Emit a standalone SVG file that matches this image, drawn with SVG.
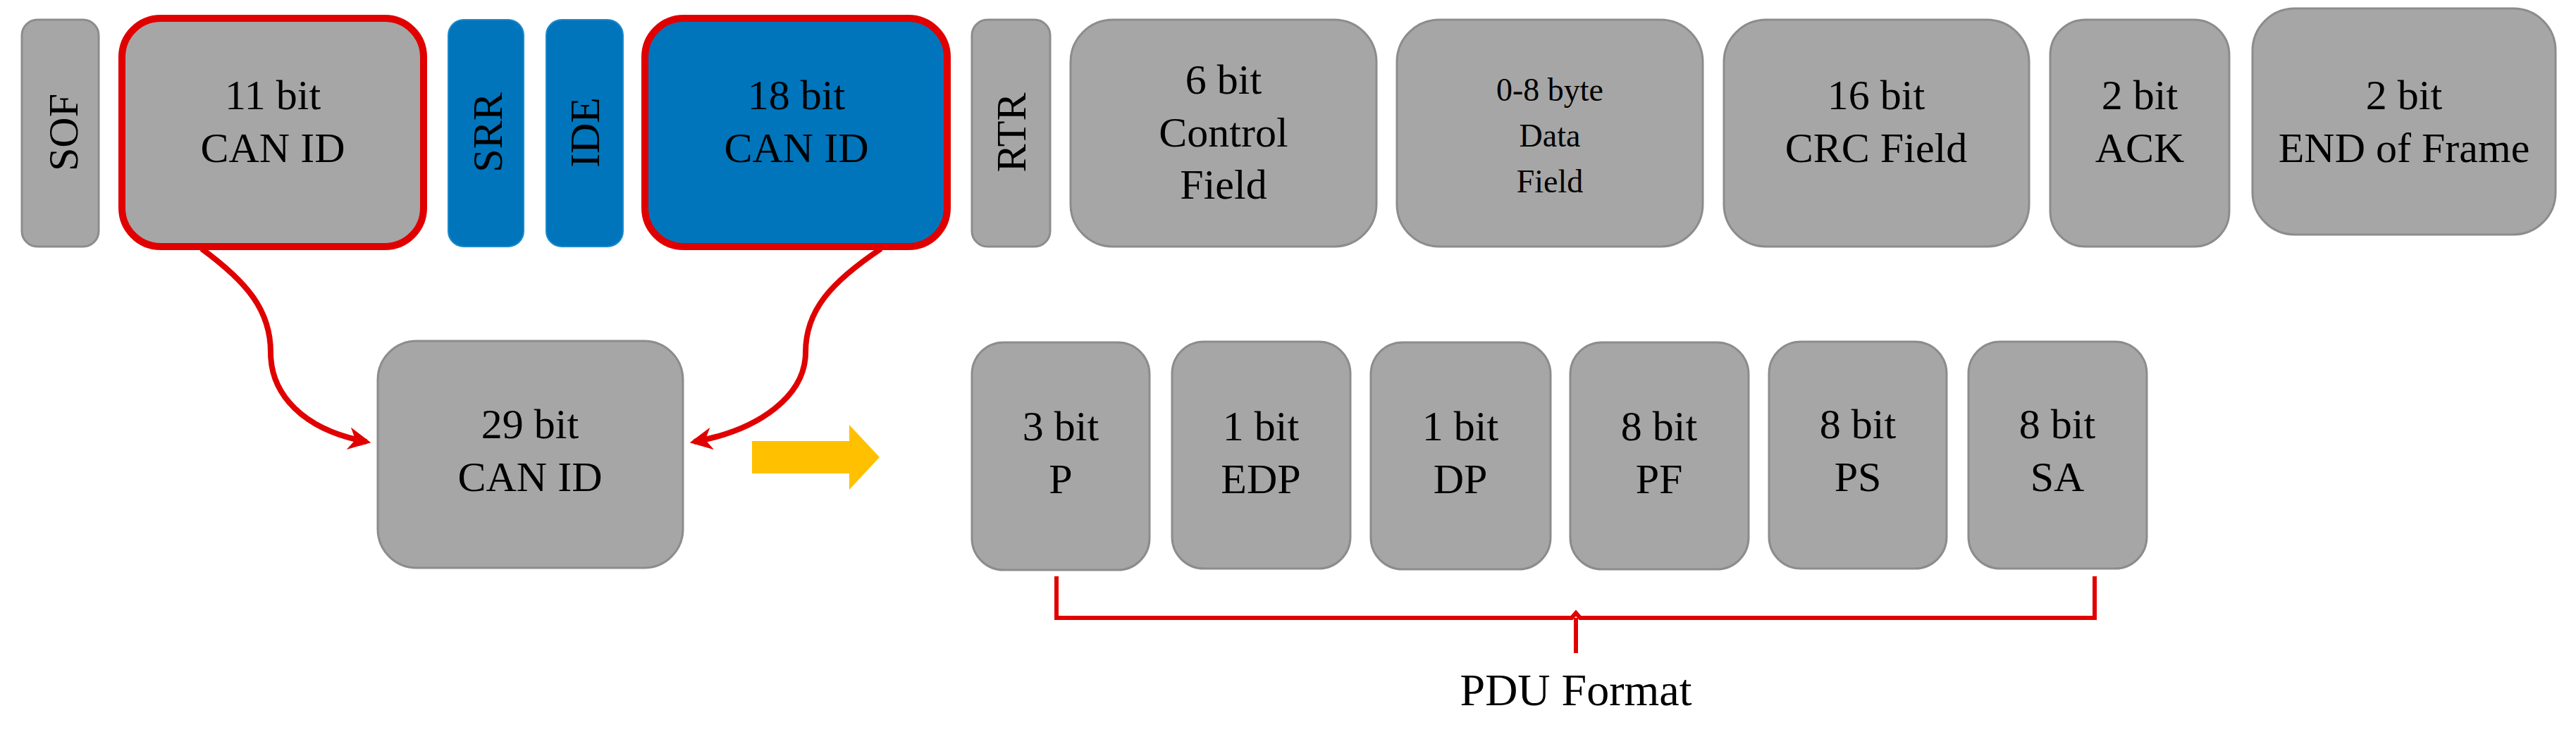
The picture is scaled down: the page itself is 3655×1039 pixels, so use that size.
<svg xmlns="http://www.w3.org/2000/svg" width="3655" height="1039" viewBox="0 0 3655 1039">
<style>
.g{fill:#A6A6A6;stroke:#8C8C8C;stroke-width:3}
.b{fill:#0075BB;stroke:#1A8ACB;stroke-width:2}
.hl{stroke:#E00000;stroke-width:10}
text{font-family:"Liberation Serif","Times New Roman",serif;font-size:60px;fill:#000;text-anchor:middle}
.s{font-size:46px}
.c{fill:none;stroke:#E00000;stroke-width:8}
</style>
<defs>
<marker id="ah" viewBox="0 0 10 10" refX="8" refY="5" markerWidth="4" markerHeight="4" orient="auto" markerUnits="strokeWidth">
<path d="M0,0 L10,5 L0,10 L3,5 Z" fill="#E00000"/>
</marker>
</defs>
<g id="sof"><rect class="g" x="31" y="28" width="109" height="322" rx="22"/><text transform="translate(110,188) rotate(-90)">SOF</text></g>
<g id="can11"><rect class="g hl" x="173" y="26" width="428" height="324" rx="55"/><text x="387" y="155">11 bit</text><text x="387" y="230">CAN ID</text></g>
<g id="srr"><rect class="b" x="636" y="28" width="107" height="322" rx="22"/><text transform="translate(712,188) rotate(-90)">SRR</text></g>
<g id="ide"><rect class="b" x="775" y="28" width="109" height="322" rx="22"/><text transform="translate(850,188) rotate(-90)">IDE</text></g>
<g id="can18"><rect class="b hl" x="915" y="26" width="429" height="324" rx="55"/><text x="1130" y="155">18 bit</text><text x="1130" y="230">CAN ID</text></g>
<g id="rtr"><rect class="g" x="1379" y="28" width="111" height="322" rx="22"/><text transform="translate(1455,188) rotate(-90)">RTR</text></g>
<g id="ctrl"><rect class="g" x="1519" y="28" width="434" height="322" rx="60"/><text x="1736" y="133">6 bit</text><text x="1736" y="208">Control</text><text x="1736" y="282">Field</text></g>
<g id="data"><rect class="g" x="1982" y="28" width="434" height="322" rx="60"/><text class="s" x="2199" y="143">0-8 byte</text><text class="s" x="2199" y="208">Data</text><text class="s" x="2199" y="273">Field</text></g>
<g id="crc"><rect class="g" x="2446" y="28" width="433" height="322" rx="60"/><text x="2662" y="155">16 bit</text><text x="2662" y="230">CRC Field</text></g>
<g id="ack"><rect class="g" x="2909" y="28" width="254" height="322" rx="50"/><text x="3036" y="155">2 bit</text><text x="3036" y="230">ACK</text></g>
<g id="eof"><rect class="g" x="3196" y="12" width="430" height="321" rx="60"/><text x="3411" y="155">2 bit</text><text x="3411" y="230">END of Frame</text></g>
<g id="can29"><rect class="g" x="536" y="484" width="433" height="322" rx="55"/><text x="752" y="622">29 bit</text><text x="752" y="697">CAN ID</text></g>
<g id="p"><rect class="g" x="1379" y="486" width="252" height="323" rx="45"/><text x="1505" y="625">3 bit</text><text x="1505" y="700">P</text></g>
<g id="edp"><rect class="g" x="1663" y="485" width="253" height="322" rx="45"/><text x="1789" y="625">1 bit</text><text x="1789" y="700">EDP</text></g>
<g id="dp"><rect class="g" x="1945" y="486" width="255" height="322" rx="45"/><text x="2072" y="625">1 bit</text><text x="2072" y="700">DP</text></g>
<g id="pf"><rect class="g" x="2228" y="486" width="253" height="322" rx="45"/><text x="2354" y="625">8 bit</text><text x="2354" y="700">PF</text></g>
<g id="ps"><rect class="g" x="2510" y="485" width="252" height="322" rx="45"/><text x="2636" y="622">8 bit</text><text x="2636" y="697">PS</text></g>
<g id="sa"><rect class="g" x="2793" y="485" width="253" height="322" rx="45"/><text x="2919" y="622">8 bit</text><text x="2919" y="697">SA</text></g>
<g id="pdu"><text x="2236" y="1001" style="font-size:64px">PDU Format</text></g>
<g id="connectors">
<path class="c" d="M286,353 C350,400 384,440 384,500 C384,560 430,610 520,627" marker-end="url(#ah)"/>
<path class="c" d="M1250,353 C1180,400 1143,440 1143,500 C1143,560 1080,610 985,627" marker-end="url(#ah)"/>
<path d="M1067,626 H1205 V603 L1248,649 L1205,695 V672 H1067 Z" fill="#FFC000"/>
<path d="M1499,818 V877 H2230 L2236,870 L2242,877 H2972 V818 M2236,877 V927" fill="none" stroke="#E00000" stroke-width="6"/>
</g>
</svg>
